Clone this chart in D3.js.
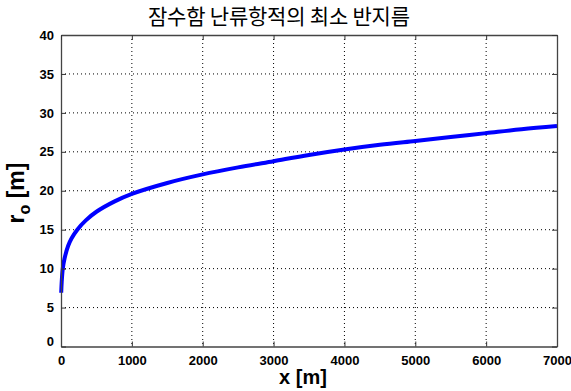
<!DOCTYPE html>
<html><head><meta charset="utf-8">
<script src="https://cdn.jsdelivr.net/npm/d3@7"></script>
<style>body{margin:0;background:#fff}svg{display:block}</style>
</head><body>
<svg id="c" width="571" height="391"></svg>
<script>
const xValues = [3, 10, 25, 50, 100, 150, 230, 350, 500, 750, 1000, 1500, 2000, 2500, 3000, 3500, 4000, 4500, 5000, 5500, 6000, 6500, 7000];
const rValues = [6.9, 8.3, 10.0, 11.3, 12.9, 13.9, 15.0, 16.2, 17.3, 18.6, 19.6, 21.0, 22.1, 23.0, 23.8, 24.6, 25.3, 25.9, 26.4, 26.9, 27.4, 27.9, 28.3];
const xTicks = [0, 1000, 2000, 3000, 4000, 5000, 6000, 7000];
const yTicks = [0, 5, 10, 15, 20, 25, 30, 35, 40];
const titleText = "잠수함 난류항적의 최소 반지름";

const svg = d3.select("#c");
const L = 61, R = 557, T = 35, B = 346.5;
const x = d3.scaleLinear().domain([0, 7000]).range([L, R]);
const y = d3.scaleLinear().domain([0, 40]).range([B, T]);

// grid
const g = svg.append("g");
g.selectAll(".gx").data(xTicks.slice(1, -1)).enter().append("line")
  .attr("x1", d => x(d)).attr("x2", d => x(d)).attr("y1", T).attr("y2", B)
  .attr("stroke", "#000").attr("stroke-width", 1).attr("stroke-dasharray", "1,3");
g.selectAll(".gy").data(yTicks.slice(1, -1)).enter().append("line")
  .attr("y1", d => y(d)).attr("y2", d => y(d)).attr("x1", L).attr("x2", R)
  .attr("stroke", "#000").attr("stroke-width", 1).attr("stroke-dasharray", "1,3");

// data line
const data = xValues.map((v, i) => [v, rValues[i]]);
svg.append("path").datum(data)
  .attr("fill", "none").attr("stroke", "#0000ff").attr("stroke-width", 4)
  .attr("stroke-linecap", "butt")
  .attr("d", d3.line().x(d => x(d[0])).y(d => y(d[1])).curve(d3.curveCatmullRom.alpha(0.5)));

// axes (ticks inward, mirrored)
const fnt = "'Liberation Sans', Arial, sans-serif";
const ax = svg.append("g").attr("transform", `translate(0,${B})`)
  .call(d3.axisBottom(x).tickValues(xTicks).tickFormat(d3.format("d")).tickSizeInner(-5).tickSizeOuter(0).tickPadding(9));
const ay = svg.append("g").attr("transform", `translate(${L},0)`)
  .call(d3.axisLeft(y).tickValues(yTicks).tickFormat(d3.format("d")).tickSizeInner(-5).tickSizeOuter(0).tickPadding(7));
const axT = svg.append("g").attr("transform", `translate(0,${T})`)
  .call(d3.axisTop(x).tickValues(xTicks).tickFormat("").tickSizeInner(-5).tickSizeOuter(0));
const ayR = svg.append("g").attr("transform", `translate(${R},0)`)
  .call(d3.axisRight(y).tickValues(yTicks).tickFormat("").tickSizeInner(-5).tickSizeOuter(0));
[ax, ay, axT, ayR].forEach(a => {
  a.selectAll("path.domain").attr("stroke", "#444").attr("stroke-width", 1.3);
  a.selectAll(".tick line").attr("stroke", "#333");
  a.selectAll("text").attr("font-family", fnt).attr("font-weight", "bold")
    .attr("font-size", 13).attr("fill", "#000");
});
ay.selectAll(".tick").filter(d => d === 0).select("text").attr("dy", "-0.1em");

// title
svg.append("text").attr("x", 279).attr("y", 24).attr("text-anchor", "middle")
  .attr("font-family", "'Noto Sans CJK KR', sans-serif").attr("font-size", 21)
  .attr("textLength", 262).attr("lengthAdjust", "spacing")
  .attr("fill", "#000").text(titleText);

// x label
svg.append("text").attr("x", 303).attr("y", 384).attr("text-anchor", "middle")
  .attr("font-family", fnt).attr("font-weight", "bold").attr("font-size", 20)
  .attr("fill", "#000").text("x [m]");

// y label with subscript
const yl = svg.append("text").attr("transform", `translate(24,193) rotate(-90)`)
  .attr("text-anchor", "middle").attr("font-family", fnt).attr("font-weight", "bold")
  .attr("font-size", 23).attr("fill", "#000");
yl.append("tspan").text("r");
yl.append("tspan").attr("font-size", 16).attr("dy", 6).text("o");
yl.append("tspan").attr("dy", -6).text(" [m]");
</script>
</body></html>
